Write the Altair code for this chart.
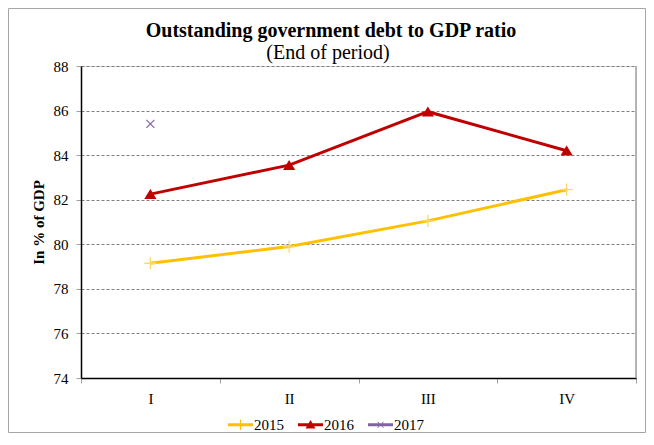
import altair as alt
import pandas as pd

quarters = ["I", "II", "III", "IV"]
debt_2015 = [79.15, 79.9, 81.05, 82.45]
debt_2016 = [82.25, 83.55, 85.95, 84.2]
debt_2017 = [85.4]
series = ["2015", "2016", "2017"]
line_colors = ["#FFC000", "#C00000", "#8064A2"]
y_ticks = [74, 76, 78, 80, 82, 84, 86, 88]
title_text = "Outstanding government debt to GDP ratio"
subtitle_text = "(End of period)"

rows = []
for s, vals in zip(series, [debt_2015, debt_2016, debt_2017]):
    for q, v in zip(quarters, vals):
        rows.append({"quarter": q, "series": s, "value": v})
df = pd.DataFrame(rows)

FONT = "Liberation Serif"
W, H = 555, 312

x_enc = alt.X(
    "quarter:O", sort=quarters, bandPosition=0.5,
    scale=alt.Scale(type="band", domain=quarters, paddingInner=0, paddingOuter=0),
    axis=alt.Axis(title=None, tickBand="extent", labelFont=FONT, labelFontSize=15,
                  labelColor="black", domainColor="black", domainWidth=1.5,
                  tickColor="#A0A0A0", tickSize=5, labelPadding=8, grid=False,
                  labelAngle=0),
)
y_enc = alt.Y(
    "value:Q",
    scale=alt.Scale(domain=[74, 88], nice=False, zero=False),
    axis=alt.Axis(values=y_ticks, title="In % of GDP", titleFont=FONT, titleFontSize=15,
                  titleFontWeight="bold", titleColor="black", titlePadding=7,
                  labelFont=FONT, labelFontSize=15, labelColor="black", labelPadding=8,
                  domainColor="black", domainWidth=1.5, tickColor="#A0A0A0", tickSize=5,
                  grid=True, gridColor="#808080", gridDash=[3, 2], gridWidth=1),
)

def line_layer(name, color):
    return alt.Chart(df).transform_filter(alt.datum.series == name).mark_line(
        strokeWidth=3, color=color
    ).encode(x=x_enc, y=y_enc)

l2015 = line_layer("2015", line_colors[0])
l2016 = line_layer("2016", line_colors[1])

plus_path = "M-1,0L1,0M0,-1L0,1"
tri_path = "M0,-0.85L1,0.8L-1,0.8Z"
x_path = "M-1,-1L1,1M1,-1L-1,1"

p2015 = alt.Chart(df).transform_filter(alt.datum.series == "2015").mark_point(
    shape=plus_path, size=150, filled=False, color="#FFD966", strokeWidth=1.3, opacity=1
).encode(x=x_enc, y=y_enc)

p2016 = alt.Chart(df).transform_filter(alt.datum.series == "2016").mark_point(
    shape=tri_path, size=150, filled=True, color="#C00000", opacity=1
).encode(x=x_enc, y=y_enc)

p2017 = alt.Chart(df).transform_filter(alt.datum.series == "2017").mark_point(
    shape=x_path, size=64, filled=False, color="#8064A2", strokeWidth=1.2, opacity=1
).encode(x=x_enc, y=y_enc)

leg_2015 = "M-1,-0.12L1,-0.12L1,0.12L-1,0.12Z M-0.04,-0.42L0.04,-0.42L0.04,0.42L-0.04,0.42Z"
leg_2016 = "M-1,-0.12L1,-0.12L1,0.12L-1,0.12Z M0,-0.38L0.4,0.3L-0.4,0.3Z"
leg_2017 = ("M-1,-0.12L1,-0.12L1,0.12L-1,0.12Z "
            "M-0.26,-0.22L-0.22,-0.26L0.26,0.22L0.22,0.26Z "
            "M0.22,-0.26L0.26,-0.22L-0.22,0.26L-0.26,0.22Z")

legend = alt.Legend(title=None, orient="none", legendX=147, legendY=346,
                    direction="horizontal", symbolSize=625, symbolStrokeWidth=0,
                    labelFont=FONT, labelFontSize=15, labelColor="black",
                    columnPadding=14, labelOffset=1, padding=0)

legend_layer = alt.Chart(df).transform_filter("false").mark_point(
    filled=True, opacity=1, strokeWidth=0
).encode(
    x=x_enc, y=y_enc,
    color=alt.Color("series:N", scale=alt.Scale(domain=series, range=line_colors), legend=legend),
    shape=alt.Shape("series:N", scale=alt.Scale(domain=series, range=[leg_2015, leg_2016, leg_2017]),
                    legend=legend),
)

one = alt.Data(values=[{"k": 1}])
right_border = alt.Chart(one).mark_rule(color="#A0A0A0", strokeWidth=1.5).encode(
    x=alt.value(W), y=alt.value(0), y2=alt.value(H)
)
outer_border = alt.Chart(one).mark_rect(filled=False, stroke="#A6A6A6", strokeWidth=1).encode(
    x=alt.value(-72.5), x2=alt.value(564.5), y=alt.value(-57.5), y2=alt.value(366.5)
)

title_df = pd.DataFrame({"t": [title_text]})
sub_df = pd.DataFrame({"t": [subtitle_text]})
title_mark = alt.Chart(title_df).mark_text(
    font=FONT, fontSize=20, fontWeight="bold", color="black", align="center", baseline="alphabetic"
).encode(text="t:N", x=alt.value(250), y=alt.value(-29))
sub_mark = alt.Chart(sub_df).mark_text(
    font=FONT, fontSize=20, color="black", align="center", baseline="alphabetic"
).encode(text="t:N", x=alt.value(247), y=alt.value(-7))

chart = alt.layer(
    outer_border, right_border, l2015, l2016, p2015, p2016, p2017, legend_layer,
    title_mark, sub_mark
).properties(
    width=W, height=H,
    autosize=alt.AutoSizeParams(type="none"),
    padding={"left": 73, "top": 58, "right": 10, "bottom": 55},
).configure_view(stroke=None).configure(background="white")

chart.save("out.html", embed_options={"renderer": "svg", "actions": False})
